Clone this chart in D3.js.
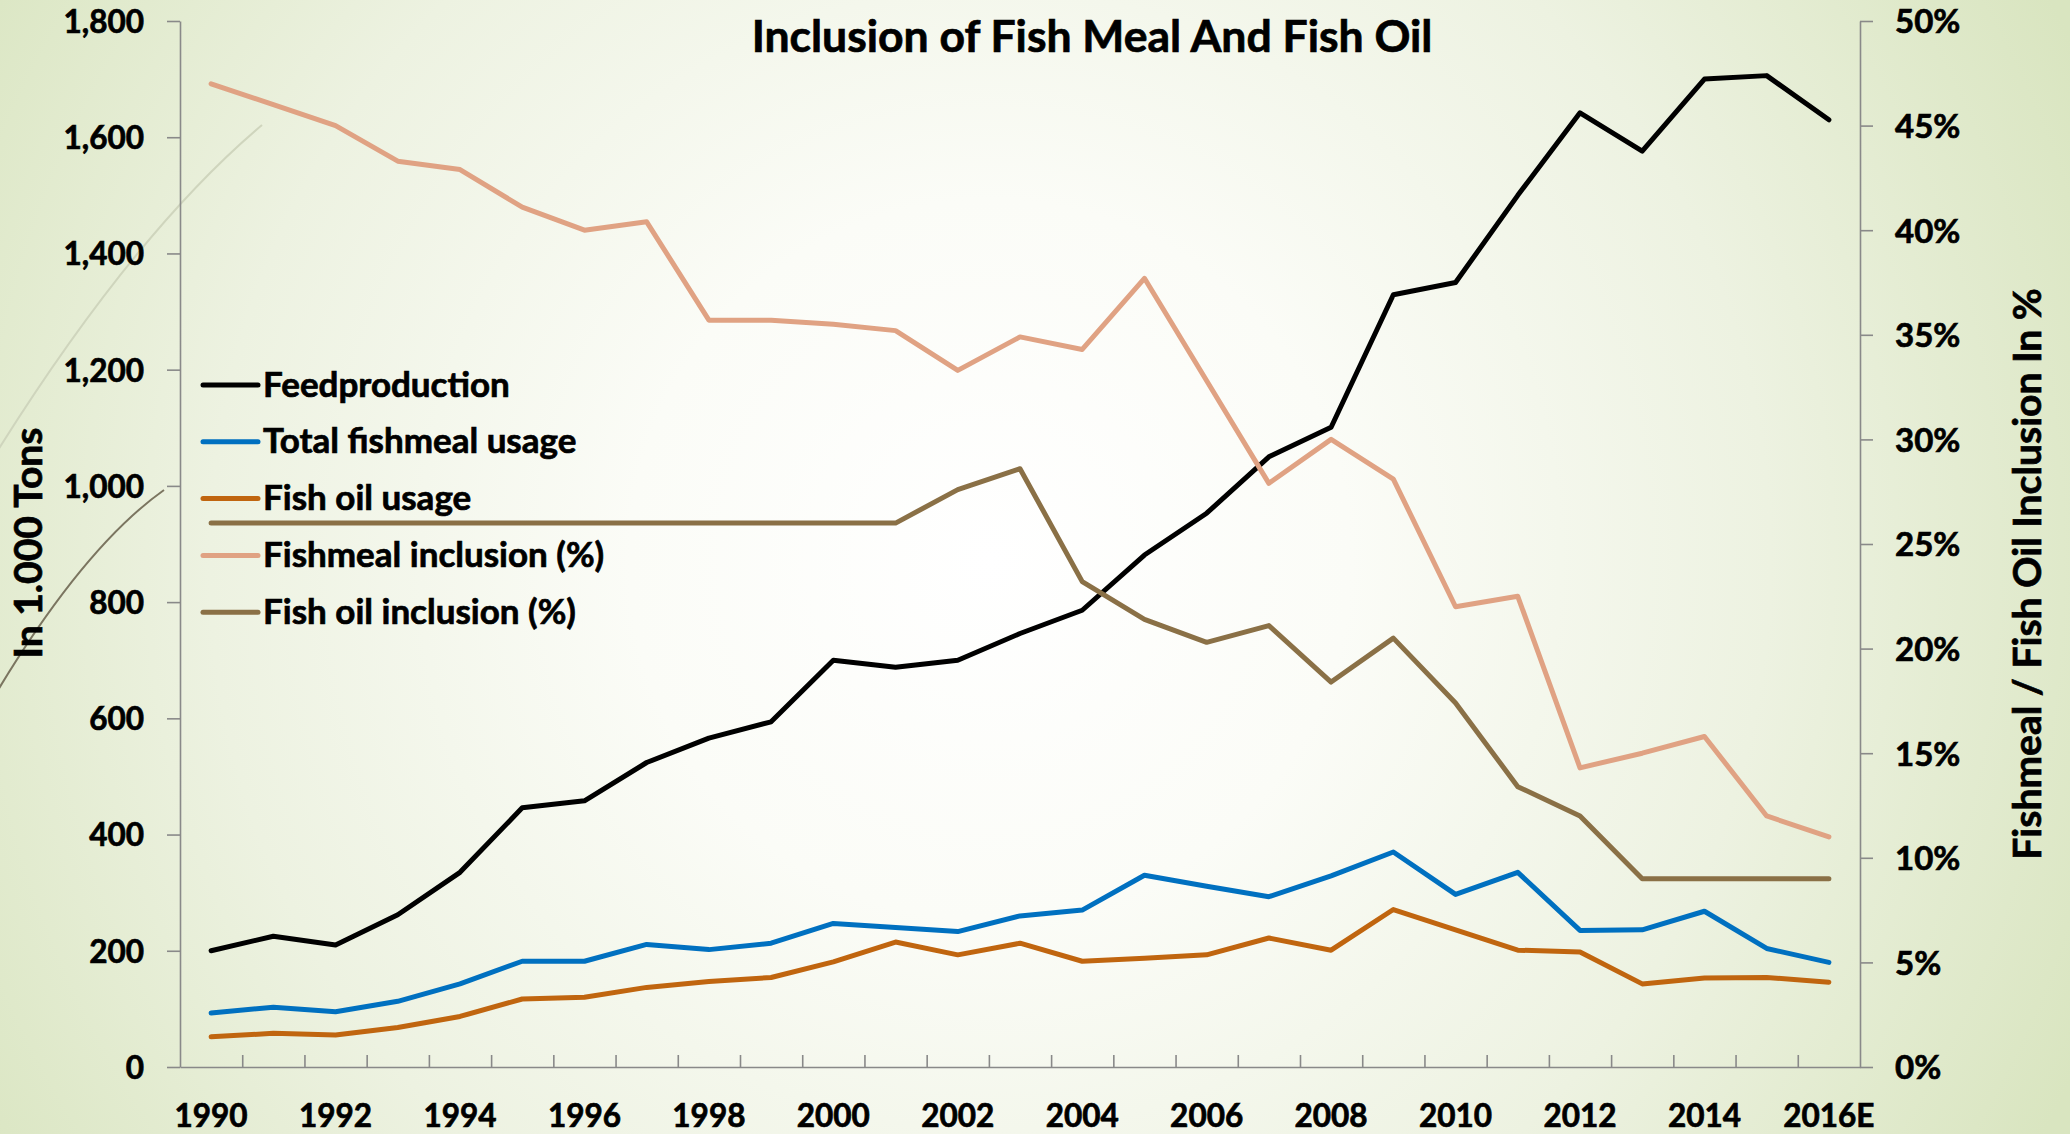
<!DOCTYPE html>
<html>
<head>
<meta charset="utf-8">
<script src="https://cdn.jsdelivr.net/npm/d3@7"></script>
<style>
  body { margin: 0; padding: 0; overflow: hidden; }
  svg text { font-family: Lato, "Open Sans", sans-serif; font-weight: bold; fill: #000; stroke: #000; stroke-width: 0.7px; }
</style>
</head>
<body>
<div id="content"></div>
<script>
// categories (x axis)
const years = ["1990","1991","1992","1993","1994","1995","1996","1997","1998","1999",
               "2000","2001","2002","2003","2004","2005","2006","2007","2008","2009",
               "2010","2011","2012","2013","2014","2015","2016E"];

// in 1.000 tons (left axis)
const feedproduction = [200,225,210,262,335,446,458,524,566,594,700,688,700,746,786,881,953,1050,1101,1329,1350,1500,1642,1576,1700,1706,1630];
const fishmealUsage  = [93,103,95,113,143,182,182,211,202,213,247,240,233,260,270,330,311,293,329,370,297,335,235,236,268,204,180];
const fishOilUsage   = [52,58,55,68,87,117,120,137,147,154,181,215,193,213,182,187,193,222,201,271,236,201,198,143,153,154,146];

// in % (right axis)
const fishmealInclusion = [47.0,46.0,45.0,43.3,42.9,41.1,40.0,40.4,35.7,35.7,35.5,35.2,33.3,34.9,34.3,37.7,32.8,27.9,30.0,28.1,22.0,22.5,14.3,15.0,15.8,12.0,11.0];
const fishOilInclusion  = [26,26,26,26,26,26,26,26,26,26,26,26,27.6,28.6,23.2,21.4,20.3,21.1,18.4,20.5,17.4,13.4,12.0,9.0,9.0,9.0,9.0];

// tick labels
const leftTicks = [0,200,400,600,800,1000,1200,1400,1600,1800];
const rightTicks = [0,5,10,15,20,25,30,35,40,45,50];
const xTickLabels = years.filter((d, i) => i % 2 === 0);

const seriesNames = ["Feedproduction","Total fishmeal usage","Fish oil usage","Fishmeal inclusion (%)","Fish oil inclusion (%)"];
const seriesColors = ["#000000","#0070c0","#c0650f","#e0a283","#8a7046"];

const w = 2070;
const h = 1134;
const plotLeft = 180, plotRight = 1860, plotTop = 21, plotBottom = 1067;

const svg = d3.select("#content")
              .append("svg")
              .attr("width", w)
              .attr("height", h);

// background
const defs = svg.append("defs");
const grad = defs.append("radialGradient")
  .attr("id", "bg")
  .attr("gradientUnits", "userSpaceOnUse")
  .attr("cx", 990).attr("cy", 560).attr("r", 1200);
grad.append("stop").attr("offset", 0).attr("stop-color", "#ffffff");
grad.append("stop").attr("offset", 0.3).attr("stop-color", "#fbfcf7");
grad.append("stop").attr("offset", 0.65).attr("stop-color", "#edf2e1");
grad.append("stop").attr("offset", 1).attr("stop-color", "#d9e5c0");

svg.append("rect").attr("width", w).attr("height", h).attr("fill", "url(#bg)");

// slide theme curves on the left
svg.append("path")
  .attr("d", "M-2,450 Q135,232 262,125")
  .attr("fill", "none").attr("stroke", "#cfd5bd").attr("stroke-width", 2);
svg.append("path")
  .attr("d", "M-2,690 Q85,546 164,490")
  .attr("fill", "none").attr("stroke", "#7b7560").attr("stroke-width", 2);

// scales
const xScale = d3.scaleBand()
  .domain(years)
  .range([plotLeft, plotRight]);

const xEdges = d3.scaleLinear()
  .domain([0, years.length])
  .range([plotLeft, plotRight]);

const yLeft = d3.scaleLinear()
  .domain([0, 1800])
  .range([plotBottom, plotTop]);

const yRight = d3.scaleLinear()
  .domain([0, 50])
  .range([plotBottom, plotTop]);

const cx = d => xScale(d) + xScale.bandwidth() / 2;

// axes
const axisColor = "#898989";

const yAxisLeft = d3.axisLeft(yLeft)
  .tickValues(leftTicks)
  .tickFormat(d3.format(","))
  .tickSize(13)
  .tickSizeOuter(0)
  .tickPadding(23);

const yAxisRight = d3.axisRight(yRight)
  .tickValues(rightTicks)
  .tickFormat(d => d + "%")
  .tickSize(13)
  .tickSizeOuter(0)
  .tickPadding(22);

const gl = svg.append("g")
  .attr("transform", "translate(" + plotLeft + ",0)")
  .call(yAxisLeft);

const gr = svg.append("g")
  .attr("transform", "translate(" + plotRight + ",0)")
  .call(yAxisRight);

// tick marks between categories, pointing inwards
const xTickAxis = d3.axisBottom(xEdges)
  .tickValues(d3.range(1, years.length))
  .tickFormat("")
  .tickSize(-12)
  .tickSizeOuter(0);

const gx = svg.append("g")
  .attr("transform", "translate(0," + plotBottom + ")")
  .call(xTickAxis);

const xAxis = d3.axisBottom(xScale)
  .tickValues(xTickLabels)
  .tickSize(0)
  .tickPadding(0);

const gxl = svg.append("g")
  .attr("transform", "translate(0," + plotBottom + ")")
  .call(xAxis);
gxl.select(".domain").remove();

[gl, gr, gx].forEach(g => {
  g.select(".domain").attr("stroke", axisColor).attr("stroke-width", 1.6);
  g.selectAll(".tick line").attr("stroke", axisColor).attr("stroke-width", 1.6);
});
[gl, gr, gxl].forEach(g => {
  g.selectAll("text")
    .attr("fill", "#000")
    .style("font-size", "31.5px")
    .style("font-family", "Lato, sans-serif")
    .style("font-weight", "bold");
});
gl.selectAll("text").attr("dy", "0.36em");
gr.selectAll("text").attr("dy", "0.36em").style("font-size", "33px");
gxl.selectAll("text").attr("y", 60).attr("dy", 0);

// lines
const lineLeft = d3.line()
  .x((d, i) => cx(years[i]))
  .y(d => yLeft(d));

const lineRight = d3.line()
  .x((d, i) => cx(years[i]))
  .y(d => yRight(d));

const plotSeries = [
  { values: feedproduction, line: lineLeft },
  { values: fishmealUsage, line: lineLeft },
  { values: fishOilUsage, line: lineLeft },
  { values: fishmealInclusion, line: lineRight },
  { values: fishOilInclusion, line: lineRight }
];

// legend
const legend = svg.append("g").attr("transform", "translate(203,385)");
const rowH = 56.8;
seriesNames.forEach((name, i) => {
  legend.append("line")
    .attr("x1", 0).attr("x2", 55)
    .attr("y1", i * rowH).attr("y2", i * rowH)
    .attr("stroke", seriesColors[i])
    .attr("stroke-width", 5)
    .attr("stroke-linecap", "round");
  legend.append("text")
    .attr("x", 60)
    .attr("y", i * rowH + 11.5)
    .style("font-size", "35px")
    .text(name);
});

plotSeries.forEach((s, i) => {
  svg.append("path")
    .datum(s.values)
    .attr("d", s.line)
    .attr("fill", "none")
    .attr("stroke", seriesColors[i])
    .attr("stroke-width", 5)
    .attr("stroke-linejoin", "round")
    .attr("stroke-linecap", "round");
});

// titles
svg.append("text")
  .attr("x", 1092)
  .attr("y", 52)
  .attr("text-anchor", "middle")
  .style("font-size", "44.5px")
  .text("Inclusion of Fish Meal And Fish Oil");

svg.append("text")
  .attr("transform", "translate(42,543) rotate(-90)")
  .attr("text-anchor", "middle")
  .style("font-size", "39px")
  .text("In 1.000 Tons");

svg.append("text")
  .attr("transform", "translate(2041,574) rotate(-90)")
  .attr("text-anchor", "middle")
  .style("font-size", "39px")
  .text("Fishmeal / Fish Oil Inclusion In %");
</script>
</body>
</html>
